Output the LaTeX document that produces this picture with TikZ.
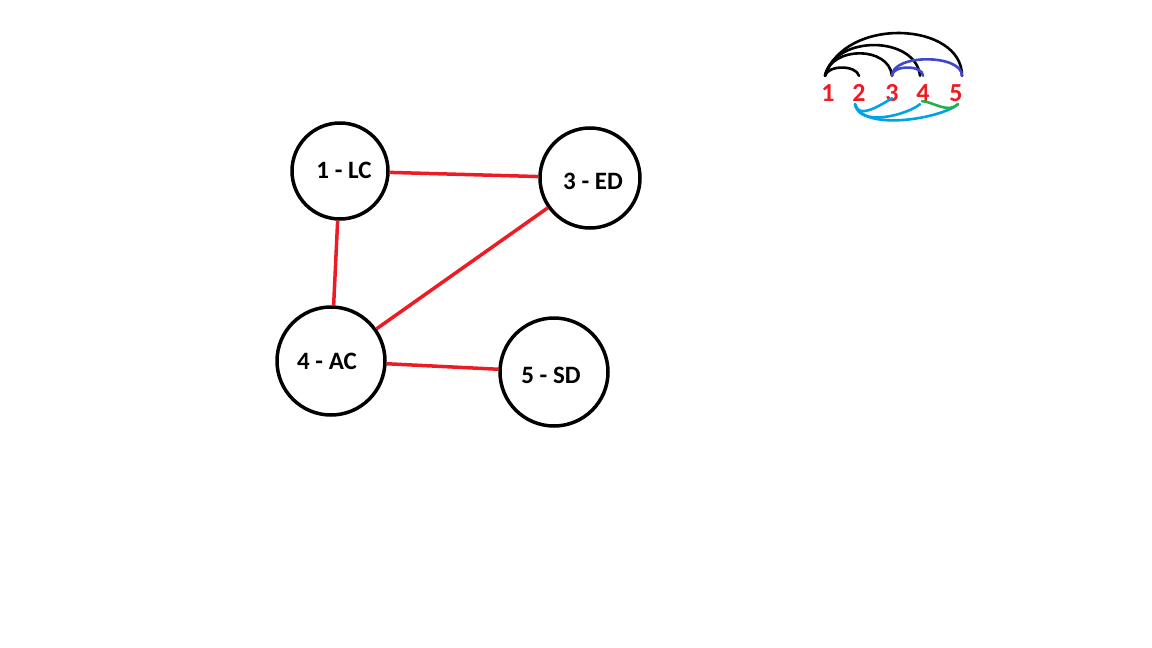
\documentclass[tikz,border=0pt]{standalone}
\usepackage{fontspec}
\setmainfont{Carlito}
\definecolor{pred}{HTML}{ED1C24}
\definecolor{pblue}{HTML}{3F48CC}
\definecolor{plblue}{HTML}{00A2E8}
\definecolor{pgreen}{HTML}{22B14C}
\tikzset{
  vert/.style={circle, draw=black, line width=3.5pt, inner sep=0pt},
  lbl/.style={font=\bfseries\fontsize{25}{27}\selectfont, inner sep=0pt},
  edge/.style={draw=pred, line width=3.5pt},
  num/.style={text=pred, font=\bfseries\fontsize{26}{28}\selectfont, inner sep=0pt, text height=25pt, text depth=3pt, anchor=base},
  arc/.style={line width=2.6pt, line cap=round}
}
\begin{document}
\begin{tikzpicture}[x=1pt,y=-1pt]
\useasboundingbox (0,0) rectangle (1152,648);
\node[vert, minimum size=96pt] (lc) at (340,171) {};
\node[lbl] (lct) at (344,170) {1 - LC};
\node[vert, minimum size=100pt] (ed) at (590,178) {};
\node[lbl] (edt) at (593,181) {3 - ED};
\node[vert, minimum size=108pt] (ac) at (331,361) {};
\node[lbl] (act) at (327,361) {4 - AC};
\node[vert, minimum size=108pt] (sd) at (554,372) {};
\node[lbl] (sdt) at (551,375) {5 - SD};
\draw[edge] (lc) -- (ed);
\draw[edge] (lc) -- (ac);
\draw[edge] (ed) -- (ac);
\draw[edge] (ac) -- (sd);
% mini graph
\node[num] (n1) at (828,101) {1};
\node[num] (n2) at (859,101) {2};
\node[num] (n3) at (892,101) {3};
\node[num] (n4) at (923,101) {4};
\node[num] (n5) at (956,101) {5};
\draw[arc, black] ([xshift=-3pt]n1.north) .. controls +(3,-11) and +(-3,-11) .. (n2.north);
\draw[arc, black] ([xshift=-3pt]n1.north) .. controls +(6,-30) and +(-3,-30) .. (n3.north);
\draw[arc, black] ([xshift=-3pt]n1.north) .. controls +(10,-42) and +(-4,-40) .. ([xshift=-3pt]n4.north);
\draw[arc, black] ([xshift=-3pt]n1.north) .. controls +(20,-60) and +(0,-54) .. ([xshift=6pt]n5.north);
\draw[arc, pblue] (n3.north) .. controls +(0,-11) and +(0,-11) .. (n4.north);
\draw[arc, pblue] (n3.north) .. controls +(0,-22) and +(0,-22) .. ([xshift=6pt]n5.north);
\draw[arc, plblue] ([xshift=-4pt]n2.south) .. controls +(3,16) and +(-10,6) .. ([yshift=6pt]n3.south);
\draw[arc, plblue] ([xshift=-4pt]n2.south) .. controls +(5,24) and +(-12,10) .. ([xshift=-3pt]n4.south);
\draw[arc, plblue] ([xshift=-4pt]n2.south) .. controls +(8,28) and +(-16,14) .. ([xshift=2pt]n5.south);
\draw[arc, pgreen] ([xshift=-1pt,yshift=3pt]n4.south) .. controls +(10,0) and +(-10,10) .. ([xshift=2pt]n5.south);
\end{tikzpicture}
\end{document}
